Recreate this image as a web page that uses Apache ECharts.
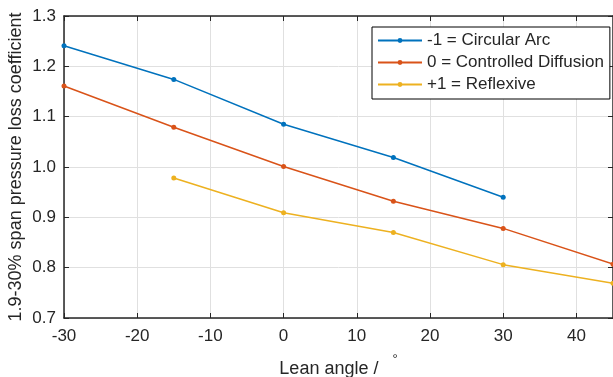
<!DOCTYPE html>
<html><head><meta charset="utf-8">
<script src="https://cdn.jsdelivr.net/npm/echarts@6/dist/echarts.min.js"></script>
<style>html,body{margin:0;padding:0;background:#fff}#c{width:613px;height:377px}</style>
</head><body><div id="c"></div>
<script>
const leanAngles = [-30, -15, 0, 15, 30, 45];
const seriesNames = ['-1 = Circular Arc', '0 = Controlled Diffusion', '+1 = Reflexive'];
const circularArc = [1.241, 1.174, 1.085, 1.019, 0.940, null];
const controlledDiffusion = [1.161, 1.079, 1.001, 0.932, 0.878, 0.807];
const reflexive = [null, 0.978, 0.909, 0.870, 0.806, 0.769];
const xTicks = [-30, -20, -10, 0, 10, 20, 30, 40];
const yTicks = [0.7, 0.8, 0.9, 1.0, 1.1, 1.2, 1.3];
const colors = ['#0072BD', '#D95319', '#EDB120'];

const font = 'Liberation Sans, Arial, Helvetica, sans-serif';
const pairs = arr => leanAngles.map((x, i) => [x, arr[i]]).filter(p => p[1] !== null);
const mk = (name, arr, c) => ({
  name, type: 'line', data: pairs(arr), symbol: 'circle', symbolSize: 5,
  itemStyle: {color: c}, lineStyle: {color: c, width: 1.5}, xAxisIndex: 0, yAxisIndex: 0
});
const chart = echarts.init(document.getElementById('c'));
chart.setOption({
  animation: false,
  grid: {left: 64, right: 0, top: 16, bottom: 59, containLabel: false, outerBoundsMode: 'none'},
  legend: {
    orient: 'vertical', left: 372, top: 27, itemWidth: 44, itemHeight: 6, itemGap: 5,
    padding: [5, 6, 6, 5], backgroundColor: '#fff', borderColor: '#000', borderWidth: 1,
    textStyle: {fontFamily: font, fontSize: 17, color: '#262626'},
    data: seriesNames
  },
  xAxis: [{
    type: 'value', min: -30, max: 45, interval: 10, position: 'bottom',
    axisLine: {onZero: false, lineStyle: {color: '#262626', width: 1.5}},
    axisTick: {inside: true, length: 5, lineStyle: {color: '#262626'}},
    axisLabel: {showMaxLabel: false, margin: 10, fontFamily: font, fontSize: 17, color: '#262626',
      formatter: v => xTicks.includes(v) ? String(v) : ''},
    splitLine: {show: true, lineStyle: {color: '#e0e0e0', width: 1}},
    name: 'Lean angle / {d|°}', nameLocation: 'middle', nameGap: 35, nameMoveOverlap: false,
    nameTextStyle: {fontFamily: font, fontSize: 18, color: '#262626',
      rich: {d: {fontFamily: font, fontSize: 13, color: '#262626', padding: [0, 0, 20, 9]}}}
  }, {
    type: 'value', min: -30, max: 45, interval: 10, position: 'top',
    axisLine: {onZero: false, lineStyle: {color: '#262626', width: 1.5}},
    axisTick: {inside: true, length: 5, lineStyle: {color: '#262626'}},
    axisLabel: {show: false}, splitLine: {show: false}
  }],
  yAxis: [{
    type: 'value', min: 0.7, max: 1.3, interval: 0.1, position: 'left',
    axisLine: {show: true, onZero: false, lineStyle: {color: '#262626', width: 1.5}},
    axisTick: {show: true, inside: true, length: 5, lineStyle: {color: '#262626'}},
    axisLabel: {margin: 8, fontFamily: font, fontSize: 17, color: '#262626',
      formatter: v => v.toFixed(1)},
    splitLine: {show: true, lineStyle: {color: '#e0e0e0', width: 1}},
    name: '1.9-30% span pressure loss coefficient', nameLocation: 'middle', nameGap: 39,
    nameMoveOverlap: false,
    nameTextStyle: {fontFamily: font, fontSize: 18, color: '#262626'}
  }, {
    type: 'value', min: 0.7, max: 1.3, interval: 0.1, position: 'right',
    axisLine: {show: true, onZero: false, lineStyle: {color: '#262626', width: 1.5}},
    axisTick: {show: true, inside: true, length: 5, lineStyle: {color: '#262626'}},
    axisLabel: {show: false}, splitLine: {show: false}
  }],
  series: [
    mk(seriesNames[0], circularArc, colors[0]),
    mk(seriesNames[1], controlledDiffusion, colors[1]),
    mk(seriesNames[2], reflexive, colors[2])
  ]
});
</script></body></html>
